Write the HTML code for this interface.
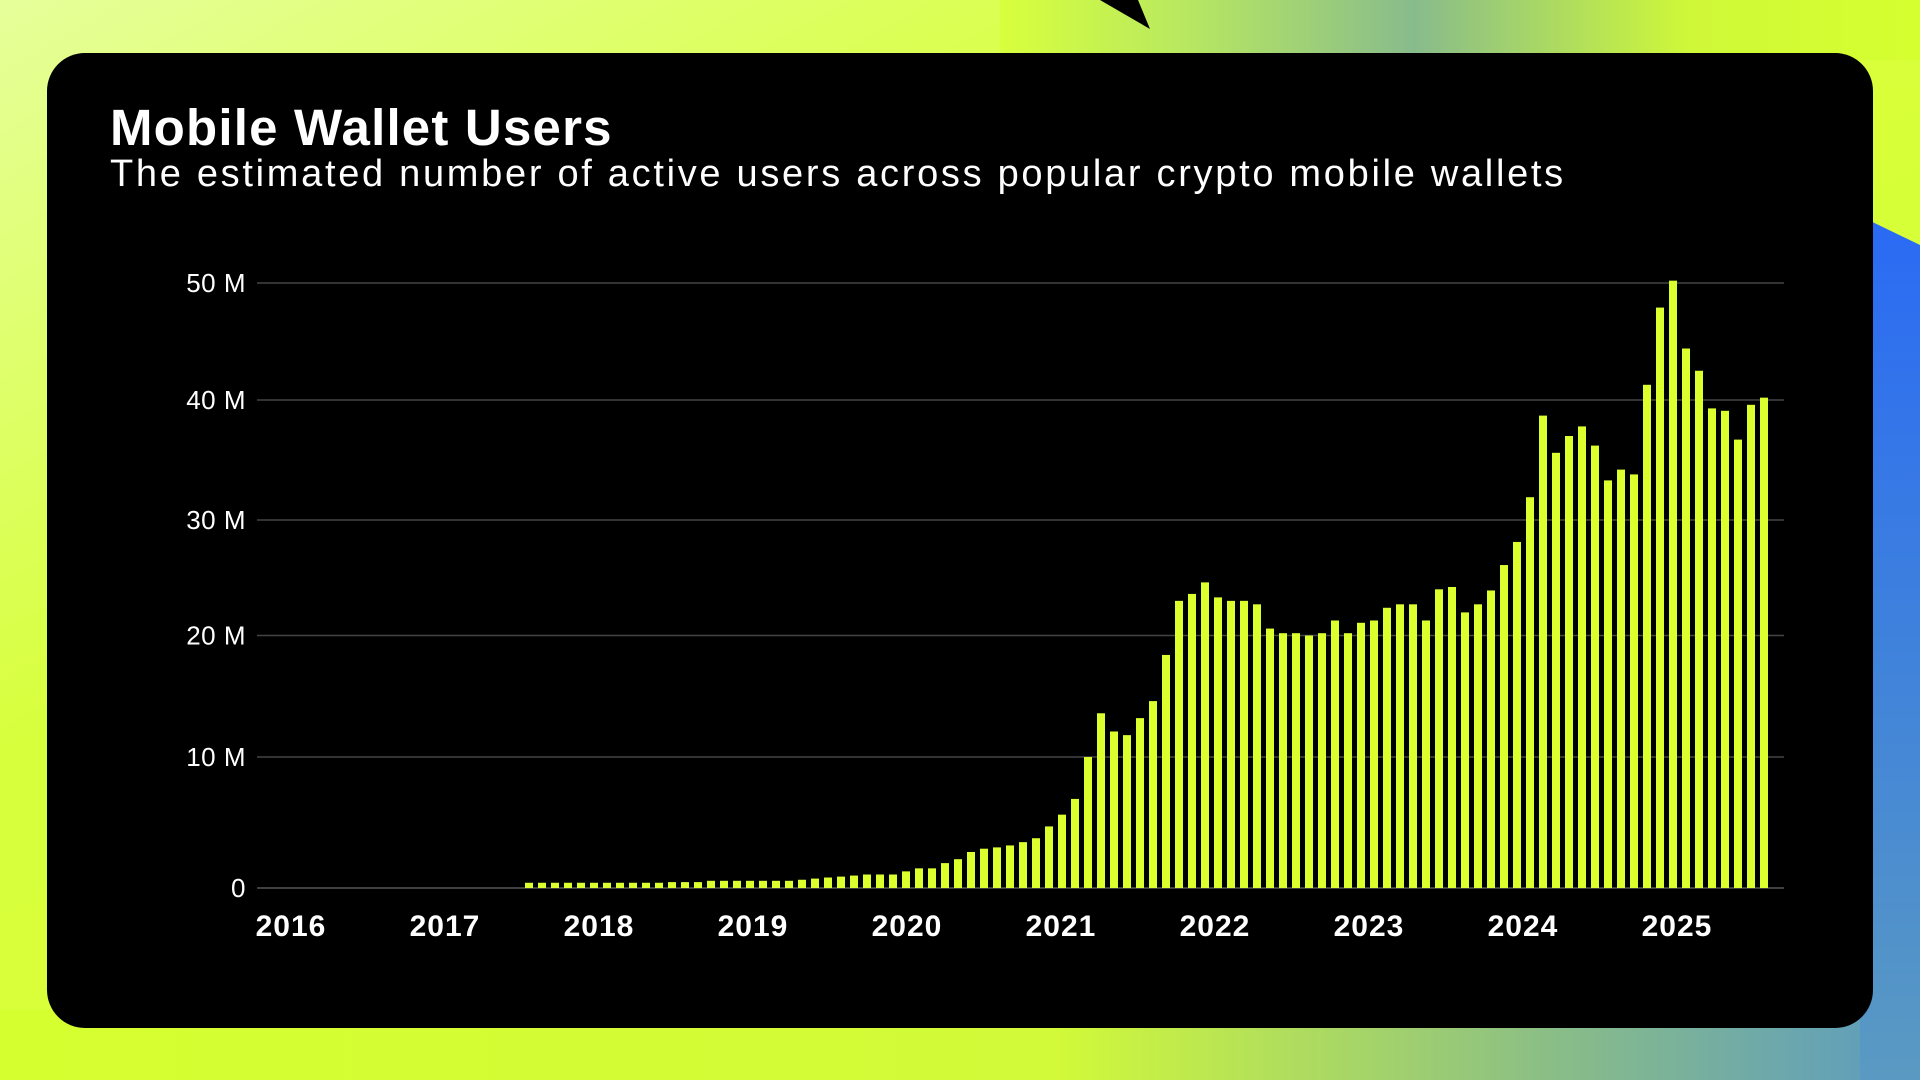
<!DOCTYPE html>
<html><head><meta charset="utf-8"><style>
html,body{margin:0;padding:0;width:1920px;height:1080px;overflow:hidden;font-family:"Liberation Sans",sans-serif;}
#bg{position:absolute;left:0;top:0;}
#card{position:absolute;left:47px;top:53px;width:1826px;height:975px;background:#000;border-radius:38px;}
#title{position:absolute;left:110px;top:98px;margin:0;color:#fff;font-size:51px;font-weight:bold;letter-spacing:1.2px;}
#subtitle{position:absolute;left:110px;top:153px;margin:0;color:#fff;font-size:38px;letter-spacing:2.7px;white-space:nowrap;}
#chart{position:absolute;left:0;top:0;}
</style></head><body>
<svg id="bg" width="1920" height="1080">
<defs>
<linearGradient id="g0" x1="0" y1="0" x2="1" y2="1"><stop offset="0" stop-color="#e6ff9a"/><stop offset="0.35" stop-color="#d8ff3c"/><stop offset="1" stop-color="#d6ff30"/></linearGradient>
<linearGradient id="gb" x1="0" y1="0" x2="1" y2="0"><stop offset="0" stop-color="#d6ff30"/><stop offset="0.55" stop-color="#d2fa38"/><stop offset="0.8" stop-color="#8cbf84"/><stop offset="1" stop-color="#5a9ac2"/></linearGradient>
<linearGradient id="gt" x1="0" y1="0" x2="1" y2="0"><stop offset="0" stop-color="#d8ff3c"/><stop offset="0.2" stop-color="#b8e860"/><stop offset="0.45" stop-color="#88bb8c"/><stop offset="0.75" stop-color="#cff838"/><stop offset="1" stop-color="#d6ff30"/></linearGradient>
<linearGradient id="gr" x1="0" y1="0" x2="0" y2="1"><stop offset="0" stop-color="#2a6af5"/><stop offset="0.5" stop-color="#3f82dc"/><stop offset="1" stop-color="#5a9ac2"/></linearGradient>
</defs>
<rect width="1920" height="1080" fill="url(#g0)"/>
<rect x="1000" y="0" width="920" height="60" fill="url(#gt)"/>
<rect x="0" y="1010" width="1920" height="70" fill="url(#gb)"/>
<polygon points="1860,216 1920,245 1920,1080 1860,1080" fill="url(#gr)"/>
<polygon points="1100,0 1150,29 1138,0" fill="#000"/>
</svg>
<div id="card"></div>
<h1 id="title">Mobile Wallet Users</h1>
<p id="subtitle">The estimated number of active users across popular crypto mobile wallets</p>
<svg id="chart" width="1920" height="1080"></svg>
<script>
// Monthly values, Aug 2017 .. Jul 2025 (millions)
const startYear = 2017;
const startMonth = 7; // 0-based: August
const values = [
0.4,0.4,0.4,0.4,0.4,
0.4,0.4,0.4,0.4,0.4,0.4,0.45,0.45,0.45,0.55,0.55,0.55,
0.55,0.55,0.55,0.55,0.63,0.72,0.8,0.87,0.95,1.03,1.03,1.03,
1.27,1.5,1.5,1.9,2.2,2.75,3.0,3.1,3.25,3.5,3.8,4.7,
5.6,6.8,10.0,13.6,12.1,11.8,13.2,14.6,18.4,23.0,23.6,24.6,
23.3,23.0,23.0,22.7,20.6,20.2,20.2,20.0,20.2,21.3,20.2,21.1,
21.3,22.4,22.7,22.7,21.3,24.0,24.2,22.0,22.7,23.9,26.1,28.1,
31.9,38.7,35.6,37.0,37.8,36.2,33.3,34.2,33.8,41.3,47.9,50.2,
44.4,42.5,39.3,39.1,36.7,39.6,40.2
];
const yTicks = [0,10,20,30,40,50];
const yTickLabels = ["0","10 M","20 M","30 M","40 M","50 M"];
const years = [2016,2017,2018,2019,2020,2021,2022,2023,2024,2025];

const svg = document.getElementById('chart');
const NS = 'http://www.w3.org/2000/svg';
const tickPix = [888,757,635.5,520,400,283];
function y(v){
  if (v <= 0) return tickPix[0];
  let i = Math.min(Math.floor(v/10), 4);
  const f = (v - i*10)/10;
  return tickPix[i] + (tickPix[i+1]-tickPix[i])*f;
}
function xBar(m){ return 1166 + (m - 68)*13.0; }
function xYear(yr){ return 291 + (yr-2016)*154; }

yTicks.forEach((t,i)=>{
  const l = document.createElementNS(NS,'line');
  l.setAttribute('x1',257); l.setAttribute('x2',1784);
  l.setAttribute('y1',y(t)); l.setAttribute('y2',y(t));
  l.setAttribute('stroke', t===0 ? '#555' : '#444'); l.setAttribute('stroke-width',1.6);
  
  
  svg.appendChild(l);
  const tx = document.createElementNS(NS,'text');
  tx.setAttribute('x',246); tx.setAttribute('y',y(t)+9);
  tx.setAttribute('text-anchor','end'); tx.setAttribute('fill','#fff');
  tx.setAttribute('font-size','26'); tx.setAttribute('letter-spacing','0.5');
  tx.setAttribute('font-family','Liberation Sans, sans-serif');
  tx.textContent = yTickLabels[i];
  
  
  svg.appendChild(tx);
});
values.forEach((v,i)=>{
  const m = (startYear-2016)*12 + startMonth + i;
  const r = document.createElementNS(NS,'rect');
  r.setAttribute('x', xBar(m)-4); r.setAttribute('width', 8);
  r.setAttribute('y', y(v)); r.setAttribute('height', Math.max(0, y(0)-y(v)));
  r.setAttribute('fill','#dcff2e');
  
  
  svg.appendChild(r);
});
years.forEach(yr=>{
  const tx = document.createElementNS(NS,'text');
  tx.setAttribute('x', xYear(yr)); tx.setAttribute('y', 936);
  tx.setAttribute('text-anchor','middle'); tx.setAttribute('fill','#fff');
  tx.setAttribute('font-size','30'); tx.setAttribute('font-weight','bold');
  tx.setAttribute('letter-spacing','1');
  tx.setAttribute('font-family','Liberation Sans, sans-serif');
  tx.textContent = yr;
  
  
  svg.appendChild(tx);
});
</script>
</body></html>
